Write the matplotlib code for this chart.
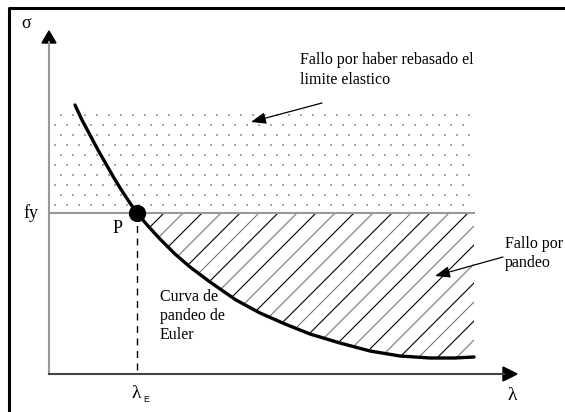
import matplotlib
matplotlib.use("Agg")
import matplotlib.pyplot as plt
import numpy as np

# diagram drawn in pixel-like units (x to the right, y downwards)
curve_lam = [75, 82, 90, 98, 106, 114, 122, 130, 137, 148, 160, 175, 190,
             210, 236, 260, 285, 310, 340, 370, 400, 430, 455, 474]
curve_sigma = [105, 120, 135, 150, 164, 178, 191, 203, 213, 226, 239, 254,
               267, 282, 300, 313, 324, 334, 343, 351, 356, 358, 358, 357]

fy_level = 213
lam_E = 137
lam_max = 474
axis_x0 = 49
axis_y0 = 374
top_dots = 112

serif = "Liberation Serif"

fig = plt.figure(figsize=(5.65, 4.12), dpi=100)
ax = fig.add_axes([0, 0, 1, 1])
ax.set_xlim(0, 565)
ax.set_ylim(412, 0)
ax.axis("off")

# frame (top and left only)
ax.plot([9, 9, 565], [412, 8, 8], color="black", lw=2.2, solid_capstyle="butt")

# dotted region (elastic limit exceeded)
dx, dy = 12, 10
rows = np.arange(top_dots + 3, fy_level - 3, dy)
px, py = [], []
for i, r in enumerate(rows):
    cols = np.arange(axis_x0 + 6 + (6 if i % 2 == 0 else 0), lam_max, dx)
    px.extend(cols)
    py.extend([r] * len(cols))
ax.scatter(px, py, s=1.3, color="#a8a8a8", marker="s", lw=0)

# hatched region (buckling): diagonal lines clipped to the region
cx = np.array(curve_lam)
cy = np.array(curve_sigma)
m = cx >= lam_E
region = ax.fill_between(cx[m], cy[m], fy_level, facecolor="none", lw=0)
clip = region.get_paths()[0]
for k, c in enumerate(np.arange(lam_E - 200, lam_max + 200, 19)):
    ln, = ax.plot([c, c + 200], [fy_level + 170, fy_level - 30],
                  color="black" if k % 2 else "#777777", lw=0.8)
    ln.set_clip_path(clip, ax.transData)

# axes
ax.plot([axis_x0, axis_x0], [axis_y0, 42], color="#999999", lw=1.5)
ax.plot([axis_x0, 504], [axis_y0, axis_y0], color="#444444", lw=1.5)
ax.plot([axis_x0, lam_max], [fy_level, fy_level], color="#999999", lw=1.5)
ax.add_patch(plt.Polygon([[42, 43], [56, 43], [49, 31]], color="black"))
ax.add_patch(plt.Polygon([[503, 367], [503, 381], [517, 374]], color="black"))

# Euler curve
ax.plot(cx, cy, color="black", lw=2.4, solid_capstyle="round",
        solid_joinstyle="round")
ax.plot([lam_E, lam_E], [fy_level, axis_y0], color="black", lw=1,
        dashes=(5, 4))
ax.scatter([lam_E], [fy_level], s=130, color="black", zorder=5)

# labels
ax.text(26, 23, "σ", fontsize=13, family=serif, ha="center", va="center")
ax.text(31, 213, "fy", fontsize=13, family=serif, ha="center", va="center")
ax.text(118, 228, "P", fontsize=13, family=serif, ha="center", va="center")
ax.text(512, 396, "λ", fontsize=14, family=serif, ha="center", va="center")
ax.text(136, 393, "λ", fontsize=14, family=serif, ha="center", va="center")
ax.text(146, 399, "E", fontsize=6.5, family="Liberation Sans", ha="center",
        va="center")

ax.text(300, 52, "Fallo por haber rebasado el\nlimite elastico", fontsize=11.5,
        family=serif, ha="left", va="top", linespacing=1.3)
ax.text(505, 236, "Fallo por\npandeo", fontsize=11.5, family=serif,
        ha="left", va="top", linespacing=1.25)
ax.text(160, 289, "Curva de\npandeo de\nEuler", fontsize=11.5, family=serif,
        ha="left", va="top", linespacing=1.25)

ax.annotate("", xy=(251, 122), xytext=(322, 103),
            arrowprops=dict(arrowstyle="-|>,head_length=0.9,head_width=0.35",
                            color="black", lw=0.9, shrinkA=0, shrinkB=0))
ax.annotate("", xy=(435, 276), xytext=(503, 257),
            arrowprops=dict(arrowstyle="-|>,head_length=0.9,head_width=0.35",
                            color="black", lw=0.9, shrinkA=0, shrinkB=0))

fig.savefig("out.png", dpi=100)
